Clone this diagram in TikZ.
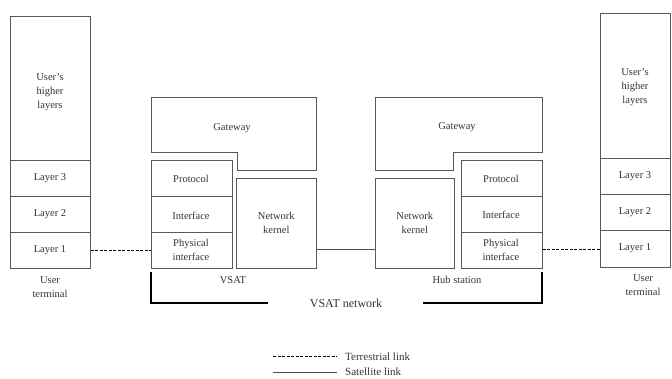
\documentclass[tikz,border=0pt]{standalone}
\usepackage{fontspec}
\setmainfont{Liberation Serif}
\begin{document}
\begin{tikzpicture}[x=1pt,y=-1pt,
  box/.style={draw=black!65,line width=0.6pt,inner sep=0pt,anchor=north west},
  lbl/.style={font=\fontsize{10.5}{14}\selectfont,align=center,text=black!80,inner sep=0pt},
  terr/.style={draw=black,line width=0.8pt,dash pattern=on 3pt off 1.5pt},
  sat/.style={draw=black!70,line width=0.6pt},
  bracket/.style={draw=black,line width=1.6pt}]
\useasboundingbox (0,0) rectangle (672,379);
% left user terminal
\node[box,minimum width=80pt,minimum height=252pt] (ut1) at (10,16) {};
\draw[draw=black!65,line width=0.6pt] (10,160) -- (90,160) (10,196) -- (90,196) (10,232) -- (90,232);
\node[lbl] (ut1h) at (50,92) {User's\\higher\\layers};
\node[lbl] (ut1l3) at (50,178) {Layer 3};
\node[lbl] (ut1l2) at (50,214) {Layer 2};
\node[lbl] (ut1l1) at (50,250) {Layer 1};
\node[lbl] (ut1t) at (50,287) {User\\terminal};
% right user terminal
\node[box,minimum width=70pt,minimum height=254pt] (ut2) at (600,13) {};
\draw[draw=black!65,line width=0.6pt] (600,158) -- (670,158) (600,194) -- (670,194) (600,230) -- (670,230);
\node[lbl] (ut2h) at (635,87) {User's\\higher\\layers};
\node[lbl] (ut2l3) at (635,176) {Layer 3};
\node[lbl] (ut2l2) at (635,212) {Layer 2};
\node[lbl] (ut2l1) at (635,248) {Layer 1};
\node[lbl] (ut2t) at (643,285) {User\\terminal};
% VSAT
\draw[draw=black!65,line width=0.6pt] (151,97) -- (316,97) -- (316,170) -- (237,170) -- (237,152) -- (151,152) -- cycle;
\node[lbl] (gw1) at (232,128) {Gateway};
\node[box,minimum width=81pt,minimum height=108pt] (st1) at (151,160) {};
\draw[draw=black!65,line width=0.6pt] (151,196) -- (232,196) (151,232) -- (232,232);
\node[lbl] (st1p) at (191,179) {Protocol};
\node[lbl] (st1i) at (191,216) {Interface};
\node[lbl] (st1ph) at (191,250) {Physical\\interface};
\node[box,minimum width=80pt,minimum height=90pt] (nk1) at (236,178) {};
\node[lbl] at (nk1.center) {Network\\kernel};
\node[lbl] (vsat) at (233,280) {VSAT};
% Hub station
\draw[draw=black!65,line width=0.6pt] (375,97) -- (542,97) -- (542,152) -- (453,152) -- (453,170) -- (375,170) -- cycle;
\node[lbl] (gw2) at (457,127) {Gateway};
\node[box,minimum width=81pt,minimum height=108pt] (st2) at (461,160) {};
\draw[draw=black!65,line width=0.6pt] (461,196) -- (542,196) (461,232) -- (542,232);
\node[lbl] (st2p) at (501,179) {Protocol};
\node[lbl] (st2i) at (501,215) {Interface};
\node[lbl] (st2ph) at (501,250) {Physical\\interface};
\node[box,minimum width=79pt,minimum height=90pt] (nk2) at (375,178) {};
\node[lbl] at (nk2.center) {Network\\kernel};
\node[lbl] (hub) at (457,280) {Hub station};
% links
\draw[terr] (ut1.east |- 0,250) -- (st1.west |- 0,250);
\draw[sat] (nk1.east |- 0,249) -- (nk2.west |- 0,249);
\draw[terr] (st2.east |- 0,249) -- (ut2.west |- 0,249);
% VSAT network bracket
\node[lbl,font=\fontsize{12}{14}\selectfont] (vnet) at (346,303) {VSAT network};
\coordinate (b1) at (151,272);
\coordinate (b2) at (542,272);
\draw[bracket] (b1) -- (151,303) -- (268,303);
\draw[bracket] (423,303) -- (542,303) -- (b2);
% legend
\coordinate (l1a) at (273,356);
\coordinate (l1b) at (337,356);
\coordinate (l2a) at (273,372);
\coordinate (l2b) at (337,372);
\draw[terr] (l1a) -- (l1b);
\draw[sat] (l2a) -- (l2b);
\node[lbl,anchor=west,font=\fontsize{11}{13}\selectfont] (lt) at (345,357) {Terrestrial link};
\node[lbl,anchor=west,font=\fontsize{11}{13}\selectfont] (ls) at (345,372) {Satellite link};
\end{tikzpicture}
\end{document}
